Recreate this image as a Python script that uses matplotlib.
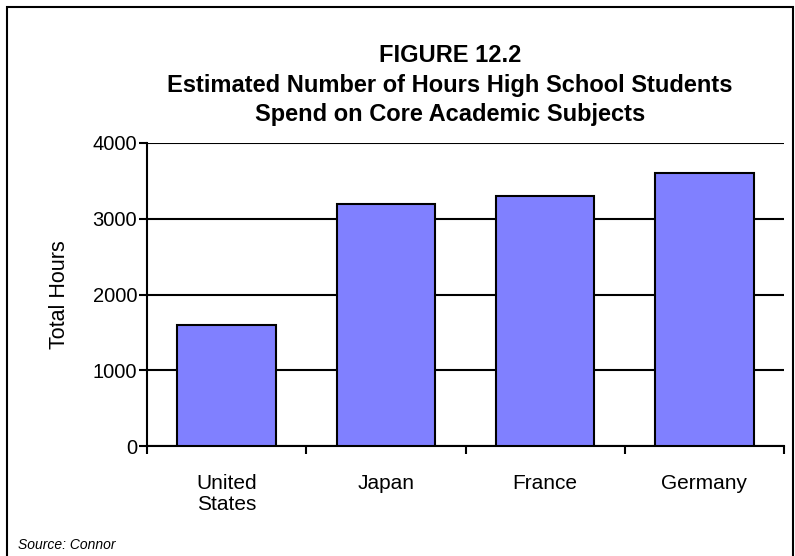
import matplotlib
matplotlib.use("Agg")
import matplotlib.pyplot as plt
import numpy as np

plt.rcParams['font.family'] = ['Liberation Sans', 'DejaVu Sans']

countries = ["United\nStates", "Japan", "France", "Germany"]
hours = [1600, 3200, 3300, 3600]
yticks = [0, 1000, 2000, 3000, 4000]

fig = plt.figure(figsize=(7.95, 5.56), dpi=100)
ax = fig.add_axes([147 / 795, 110 / 556, (784 - 147) / 795, (446 - 143) / 556])

x = np.arange(len(countries))
ax.bar(x, hours, width=0.62, color="#8080ff", edgecolor="black", linewidth=1.5, zorder=3)

ax.set_xlim(-0.5, len(countries) - 0.5)
ax.set_ylim(0, 4000)
ax.set_yticks(yticks)
ax.yaxis.grid(True, color="black", linewidth=1.5, zorder=0)
ax.set_axisbelow(True)

ax.set_xticks(x)
ax.set_xticklabels(countries, fontsize=15, va="top", linespacing=1.15)
ax.tick_params(axis="x", which="major", length=0, pad=20)
ax.set_xticks(np.arange(-0.5, len(countries)), minor=True)
ax.tick_params(axis="x", which="minor", length=6, width=1.5, direction="out")
ax.tick_params(axis="y", length=6, width=1.5, labelsize=14.5, pad=1)

for s in ["top", "right"]:
    ax.spines[s].set_visible(False)
for s in ["left", "bottom"]:
    ax.spines[s].set_linewidth(1.5)

ax.set_ylabel("Total Hours", fontsize=15.5, labelpad=16)

fig.text(0.566, 0.847, "FIGURE 12.2\nEstimated Number of Hours High School Students\nSpend on Core Academic Subjects",
         ha="center", va="center", fontsize=17, fontweight="bold", linespacing=1.37)
fig.text(18 / 795, 1 - 545 / 556, "Source: Connor", fontsize=10, style="italic", ha="left", va="center")

fig.patches.append(plt.Rectangle((7 / 795, -0.01), 0.998 - 7 / 795, 1 - 7 / 556 + 0.01,
                                 transform=fig.transFigure, fill=False, edgecolor="black", linewidth=1.5))

fig.savefig("out.png", dpi=100)
